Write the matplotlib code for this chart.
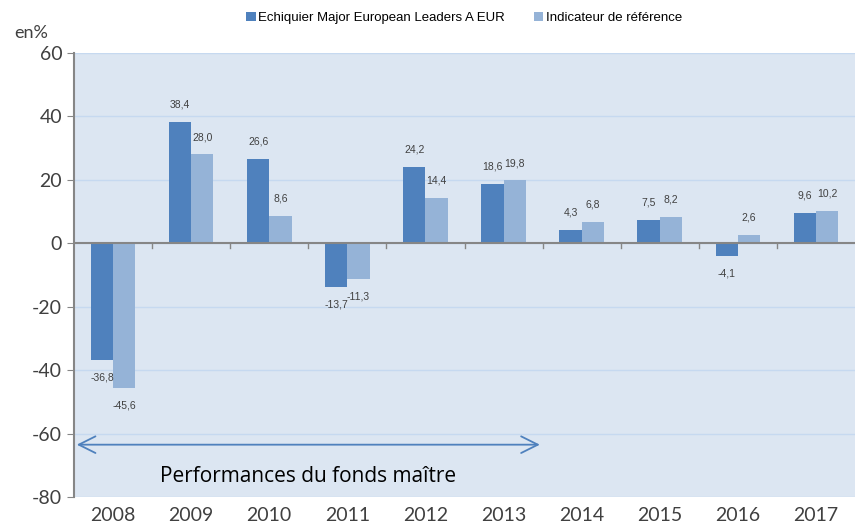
import numpy as np
import matplotlib
matplotlib.use("Agg")
import matplotlib.pyplot as plt

plt.rcParams['axes.unicode_minus'] = False

years = ['2008', '2009', '2010', '2011', '2012', '2013', '2014', '2015', '2016', '2017']
fund = [-36.8, 38.4, 26.6, -13.7, 24.2, 18.6, 4.3, 7.5, -4.1, 9.6]
bench = [-45.6, 28.0, 8.6, -11.3, 14.4, 19.8, 6.8, 8.2, 2.6, 10.2]
fund_name = 'Echiquier Major European Leaders A EUR'
bench_name = 'Indicateur de référence'
master_label = 'Performances du fonds maître'

dark_blue = '#4F81BD'
light_blue = '#95B3D7'
bg = '#DCE6F2'
grid_col = '#C6D9F0'
txt = '#404040'

fig = plt.figure(figsize=(8.55, 5.26), dpi=100)
ax = fig.add_axes([74 / 855, 1 - 497 / 526, 781 / 855, 444 / 526])
ax.set_facecolor(bg)

x = np.arange(len(years))
w = 0.285
b1 = ax.bar(x - w / 2, fund, w, color=dark_blue, label=fund_name, zorder=3)
b2 = ax.bar(x + w / 2, bench, w, color=light_blue, label=bench_name, zorder=3)

# value labels, comma decimal
for bars, vals in ((b1, fund), (b2, bench)):
    for rect, v in zip(bars, vals):
        cx = rect.get_x() + rect.get_width() / 2
        off = 5.5 if v >= 0 else -5.5
        ax.text(cx, v + off, f'{v:.1f}'.replace('.', ','), ha='center', va='center',
                fontsize=7.5, color=txt, family='Liberation Sans', zorder=4)

ax.set_xlim(-0.5, len(years) - 0.5)
ax.set_ylim(-80, 60)
ax.set_yticks(np.arange(-80, 61, 20))
ax.yaxis.grid(True, color=grid_col, linewidth=1, zorder=0)
ax.set_axisbelow(True)

# zero line with small category separators
ax.axhline(0, color='#868686', linewidth=1.5, zorder=5)
for b in np.arange(0.5, len(years) - 0.5, 1):
    ax.plot([b, b], [0, -1.5], color='#868686', linewidth=1, zorder=5)

for s in ('top', 'right', 'bottom'):
    ax.spines[s].set_visible(False)
ax.spines['left'].set_color('#868686')
ax.spines['left'].set_linewidth(1.5)

ax.set_xticks(x)
ax.set_xticklabels(years)
ax.tick_params(axis='x', length=0, pad=7.5, labelsize=14, labelcolor=txt)
ax.tick_params(axis='y', length=5, color='#868686', labelsize=14, labelcolor=txt)
for lab in ax.get_xticklabels() + ax.get_yticklabels():
    lab.set_family('Lato')

fig.text(31 / 855, 1 - 33 / 526, 'en%', fontsize=13, color=txt, family='Lato',
         ha='center', va='center')

# arrow for master fund period
ax.annotate('', xy=(-0.5, -63.5), xytext=(5.5, -63.5),
            arrowprops=dict(arrowstyle='<->', color=dark_blue, lw=1.3,
                            mutation_scale=30), zorder=6)
ax.text(2.5, -73.5, master_label, ha='center', va='center', fontsize=15,
        color='black', family='Open Sans')

fig.legend(loc='center', bbox_to_anchor=(0.543, 1 - 18 / 526), ncol=2, frameon=False,
           handlelength=0.7, handleheight=0.7, handletextpad=0.2,
           columnspacing=2.2, prop={'family': 'Liberation Sans', 'size': 9.5})

fig.savefig('out.png', dpi=100)
